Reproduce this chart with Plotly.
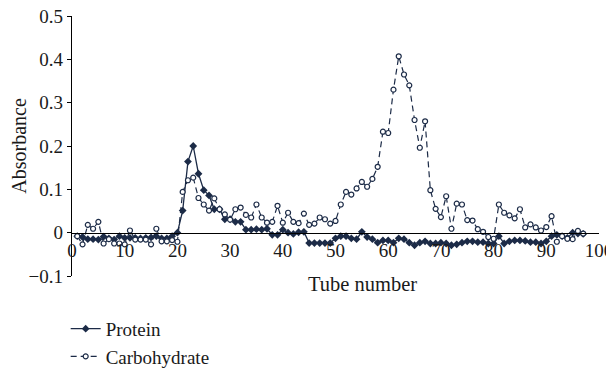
import plotly.graph_objects as go

tubes = list(range(1, 98))

protein = [
    -0.008, -0.010, -0.015, -0.015, -0.016, -0.009, -0.013, -0.016, -0.008, -0.012,
    -0.012, -0.012, -0.013, -0.012, -0.011, -0.008, -0.013, -0.013, -0.008, 0.000,
    0.051, 0.164, 0.200, 0.136, 0.098, 0.086, 0.054, 0.054, 0.031, 0.031,
    0.025, 0.025, 0.007, 0.007, 0.008, 0.007, 0.009, -0.005, -0.005, 0.007,
    0.000, -0.003, 0.001, 0.002, -0.024, -0.024, -0.024, -0.024, -0.024, -0.013,
    -0.008, -0.008, -0.013, -0.015, 0.002, -0.010, -0.015, -0.023, -0.018, -0.018,
    -0.023, -0.013, -0.015, -0.023, -0.029, -0.023, -0.020, -0.025, -0.025, -0.023,
    -0.025, -0.029, -0.027, -0.023, -0.020, -0.020, -0.022, -0.022, -0.025, -0.025,
    -0.008, -0.025, -0.020, -0.018, -0.018, -0.019, -0.022, -0.022, -0.025, -0.020,
    -0.008, -0.005, -0.008, -0.012, 0.000, -0.002, -0.003,
]

carbohydrate = [
    -0.008, -0.027, 0.018, 0.009, 0.025, -0.025, -0.015, -0.025, -0.025, -0.027,
    0.005, -0.016, -0.016, -0.016, -0.027, 0.009, -0.020, -0.020, -0.017, -0.021,
    0.094, 0.121, 0.127, 0.080, 0.065, 0.051, 0.079, 0.054, 0.042, 0.030,
    0.054, 0.058, 0.041, 0.035, 0.065, 0.035, 0.023, 0.025, 0.062, 0.023,
    0.046, 0.025, 0.022, 0.044, 0.018, 0.021, 0.035, 0.031, 0.021, 0.027,
    0.065, 0.094, 0.088, 0.102, 0.117, 0.106, 0.124, 0.152, 0.233, 0.230,
    0.330, 0.407, 0.365, 0.340, 0.260, 0.196, 0.257, 0.098, 0.055, 0.036,
    0.084, 0.009, 0.067, 0.065, 0.029, 0.028, 0.008, 0.002, -0.010, -0.014,
    0.065, 0.046, 0.040, 0.033, 0.054, 0.012, 0.019, 0.012, 0.005, 0.013,
    0.038, -0.021, -0.008, -0.014, -0.015, 0.004, -0.002,
]

x_ticks = list(range(0, 101, 10))
y_ticks = [-0.1, 0, 0.1, 0.2, 0.3, 0.4, 0.5]
y_tick_labels = ["\u22120.1", "0", "0.1", "0.2", "0.3", "0.4", "0.5"]

navy = "#1c2b47"
font_family = "Liberation Serif, Times New Roman, serif"

fig = go.Figure()
fig.add_trace(go.Scatter(
    x=tubes, y=protein, name="Protein", mode="lines+markers",
    line=dict(color=navy, width=1.3),
    marker=dict(symbol="diamond", size=6, color=navy, line=dict(width=0)),
))
fig.add_trace(go.Scatter(
    x=tubes, y=carbohydrate, name="Carbohydrate", mode="lines+markers",
    line=dict(color=navy, width=1.2, dash="6px,4px"),
    marker=dict(symbol="circle", size=5, color="white", line=dict(color=navy, width=1.2)),
))

fig.update_layout(
    width=606, height=360,
    margin=dict(l=64, r=15, t=8, b=92, autoexpand=False),
    paper_bgcolor="white", plot_bgcolor="white",
    font=dict(family=font_family, size=19, color="#1a1a1a"),
    showlegend=True,
    legend=dict(x=-0.012, y=-0.13, xanchor="left", yanchor="top",
                font=dict(family=font_family, size=19, color="#1a1a1a"),
                bgcolor="rgba(0,0,0,0)", tracegroupgap=0, itemwidth=30),
    annotations=[dict(
        text="Tube number", xref="paper", yref="paper",
        x=0.552, y=-0.031, xanchor="center", yanchor="middle",
        showarrow=False, font=dict(family=font_family, size=20.5, color="#1a1a1a"),
    )],
)

fig.update_xaxes(
    range=[0, 100], tickvals=x_ticks, ticktext=[str(v) for v in x_ticks],
    showgrid=False, zeroline=False, showline=True, linecolor="black", linewidth=1.3,
    anchor="free", position=0.1 / 0.6, ticks="",
    tickfont=dict(family=font_family, size=19, color="#1a1a1a"),
    ticklabeloverflow="allow", automargin=False,
)
fig.update_yaxes(
    range=[-0.1, 0.5], tickvals=y_ticks, ticktext=y_tick_labels,
    showgrid=False, zeroline=False, showline=True, linecolor="black", linewidth=1.3,
    ticks="outside", ticklen=4, tickcolor="black",
    tickfont=dict(family=font_family, size=19, color="#1a1a1a"),
    title=dict(text="Absorbance", font=dict(family=font_family, size=20, color="#1a1a1a"), standoff=12),
    ticklabeloverflow="allow", automargin=False,
)

fig.write_html("out.html")
